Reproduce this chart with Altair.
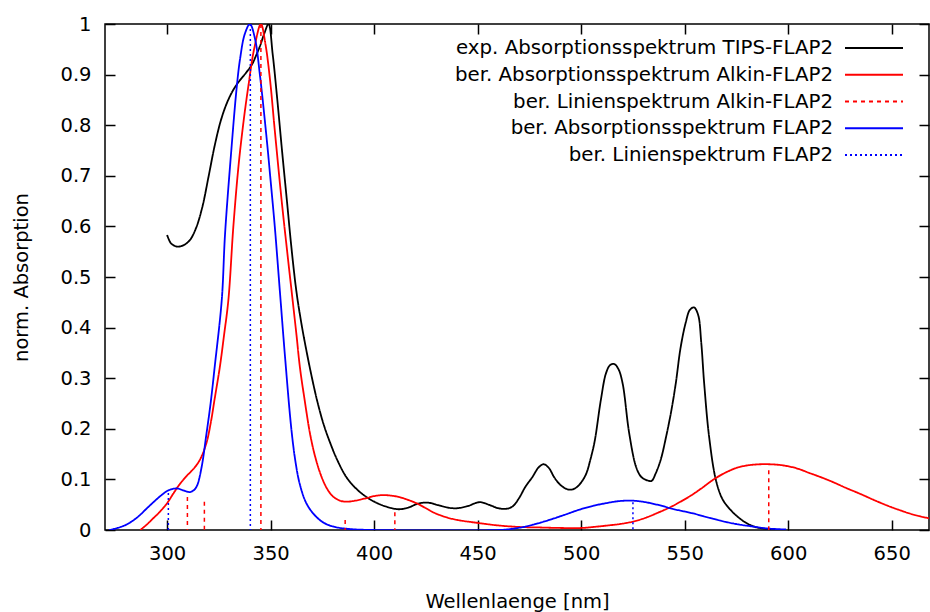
import altair as alt
import pandas as pd

# ---------------- data ----------------
series_names = [
    "exp. Absorptionsspektrum TIPS-FLAP2",
    "ber. Absorptionsspektrum Alkin-FLAP2",
    "ber. Linienspektrum Alkin-FLAP2",
    "ber. Absorptionsspektrum FLAP2",
    "ber. Linienspektrum FLAP2",
]
series_colors = ["#000000", "#ff0000", "#ff0000", "#0000ff", "#0000ff"]
series_dash = [[1, 0], [1, 0], [4, 4], [1, 0], [2, 3]]

exp_nm = [300, 302, 305, 308, 311, 314, 317, 320, 323, 326, 329, 332, 335, 338, 341, 343, 345, 347, 349,
          351, 353, 355.5, 358, 360, 362.5, 365, 367.5, 370, 372.5, 375.5, 378.5, 382, 386.5, 391, 396,
          401, 406, 412, 417, 421, 426, 431, 436, 440, 445, 451, 456, 460, 464, 467, 470, 473, 476.5,
          479.5, 482, 484.5, 487, 490, 493, 495.5, 498, 500.5, 502.5, 504.5, 506.5, 509.5, 512, 514, 516,
          518, 520, 523.2, 526.5, 529, 532, 534, 536, 538.5, 541, 543.5, 545.7, 548, 550.5, 552.5, 554.5,
          556.5, 558, 559.4, 561.8, 565, 568, 571, 574, 577.5, 581, 585, 590, 596]
exp_abs = [0.583, 0.566, 0.560, 0.563, 0.573, 0.597, 0.638, 0.698, 0.760, 0.810, 0.845, 0.870, 0.888, 0.903,
           0.920, 0.938, 0.958, 0.982, 1.000, 0.94, 0.86, 0.75, 0.645, 0.56, 0.47, 0.405, 0.35, 0.3, 0.255,
           0.21, 0.175, 0.14, 0.105, 0.083, 0.066, 0.054, 0.046, 0.041, 0.045, 0.052, 0.054, 0.049, 0.044,
           0.043, 0.047, 0.055, 0.049, 0.043, 0.042, 0.047, 0.063, 0.085, 0.105, 0.124, 0.130, 0.122, 0.104,
           0.089, 0.081, 0.080, 0.085, 0.097, 0.112, 0.140, 0.175, 0.257, 0.31, 0.326, 0.328, 0.318, 0.290,
           0.191, 0.125, 0.105, 0.098, 0.097, 0.112, 0.14, 0.184, 0.235, 0.29, 0.36, 0.41, 0.435, 0.44,
           0.425, 0.37, 0.29, 0.184, 0.10, 0.063, 0.045, 0.032, 0.02, 0.011, 0.005, 0.002, 0.0]

alkin_nm = [287, 290, 293, 296.5, 300, 303, 306, 309.5, 313, 316, 319, 321, 323, 325.5, 327.5, 329.6, 332,
            334.5, 337, 339.2, 342, 345.3, 347.5, 349.7, 352, 355.3, 358, 360.6, 362.5, 364.1, 366.5, 369,
            371.5, 374.6, 377.5, 380.2, 383.5, 386.6, 391, 396.3, 400, 404.3, 408, 412.3, 416, 420.4, 425,
            429, 435, 440, 450, 460, 470, 480, 490, 500, 506, 513, 519, 525.5, 531, 537, 543, 548, 553, 558,
            564, 570, 576, 583, 590, 597, 604, 610, 616, 622, 628, 635, 641, 648, 654, 660, 668]
alkin_abs = [0.0, 0.01, 0.022, 0.036, 0.053, 0.072, 0.09, 0.107, 0.122, 0.14, 0.172, 0.21, 0.26, 0.323, 0.385,
             0.455, 0.6, 0.72, 0.81, 0.876, 0.95, 1.0, 0.96, 0.89, 0.79, 0.652, 0.55, 0.455, 0.385, 0.323,
             0.255, 0.191, 0.145, 0.105, 0.08, 0.066, 0.058, 0.056, 0.058, 0.063, 0.067, 0.069, 0.068, 0.065,
             0.06, 0.053, 0.043, 0.034, 0.025, 0.02, 0.014, 0.009, 0.006, 0.005, 0.004, 0.004, 0.006, 0.009,
             0.012, 0.017, 0.024, 0.034, 0.045, 0.056, 0.068, 0.082, 0.1, 0.114, 0.124, 0.129, 0.13, 0.128,
             0.122, 0.113, 0.104, 0.094, 0.083, 0.071, 0.06, 0.048, 0.039, 0.031, 0.023]

flap_nm = [272, 276, 280, 284, 287, 290, 293.4, 297, 300, 302.5, 305, 308, 311, 313, 314.5, 316.7, 319, 321,
           323, 326.4, 328, 331.2, 333.5, 335.2, 337.5, 340, 342.5, 344.8, 348, 350, 352, 354.5, 357, 360,
           362, 364, 367, 370.5, 375, 380, 388, 400, 460, 466, 473.4, 479, 484.7, 492, 499, 506, 512, 518,
           524.8, 531, 537.7, 545, 553.8, 562, 569.8, 576, 582.7, 590, 599]
flap_abs = [0.0, 0.004, 0.01, 0.02, 0.03, 0.042, 0.055, 0.068, 0.077, 0.081, 0.082, 0.078, 0.075, 0.079, 0.088,
            0.125, 0.19, 0.25, 0.323, 0.455, 0.586, 0.76, 0.87, 0.93, 0.98, 1.0, 0.97, 0.9, 0.777, 0.69, 0.6,
            0.47, 0.34, 0.2, 0.135, 0.092, 0.055, 0.033, 0.016, 0.007, 0.002, 0.0, 0.0, 0.002, 0.007, 0.013,
            0.02, 0.03, 0.04, 0.048, 0.053, 0.057, 0.058, 0.055, 0.049, 0.041, 0.033, 0.024, 0.016, 0.011,
            0.007, 0.003, 0.001]

alkin_lines_nm = [309.8, 318, 345.3, 386, 410, 590.6]
alkin_lines_h = [0.065, 0.056, 1.0, 0.02, 0.035, 0.118]
flap_lines_nm = [300.6, 340.2, 525]
flap_lines_h = [0.073, 1.0, 0.055]

x_ticks = [300, 350, 400, 450, 500, 550, 600, 650]
y_ticks = [0, 0.1, 0.2, 0.3, 0.4, 0.5, 0.6, 0.7, 0.8, 0.9, 1]

# ---------------- tables ----------------
curves = pd.concat([
    pd.DataFrame({"series": series_names[0], "nm": exp_nm, "a": exp_abs}),
    pd.DataFrame({"series": series_names[1], "nm": alkin_nm, "a": alkin_abs}),
    pd.DataFrame({"series": series_names[3], "nm": flap_nm, "a": flap_abs}),
], ignore_index=True)

sticks = pd.concat([
    pd.DataFrame({"series": series_names[2], "nm": alkin_lines_nm, "h": alkin_lines_h}),
    pd.DataFrame({"series": series_names[4], "nm": flap_lines_nm, "h": flap_lines_h}),
], ignore_index=True)
sticks["zero"] = 0.0

legend_df = pd.DataFrame({"series": series_names})

FONT = "DejaVu Sans"
FS = 19.5

xscale = alt.Scale(domain=[270, 668], nice=False, zero=False)
yscale = alt.Scale(domain=[0, 1], nice=False)
color = alt.Color("series:N", scale=alt.Scale(domain=series_names, range=series_colors), legend=None)
dash = alt.StrokeDash("series:N", scale=alt.Scale(domain=series_names, range=series_dash), legend=None)

lines = alt.Chart(curves).mark_line(interpolate="catmull-rom", strokeWidth=1.8, clip=True).encode(
    x=alt.X("nm:Q", scale=xscale,
            axis=alt.Axis(values=x_ticks, orient="bottom", offset=-10, tickSize=10, labelPadding=14,
                          title="Wellenlaenge [nm]", titlePadding=30)),
    y=alt.Y("a:Q", scale=yscale,
            axis=alt.Axis(values=y_ticks, orient="left", offset=-10, tickSize=10, labelPadding=14,
                          format="~g", title="norm. Absorption", titlePadding=28)),
    color=color,
    strokeDash=dash,
    detail="series:N",
)

impulses = alt.Chart(sticks).mark_rule(strokeWidth=1.5).encode(
    x=alt.X("nm:Q", scale=xscale, axis=None),
    y=alt.Y("h:Q", scale=yscale, axis=None),
    y2="zero:Q",
    color=color,
    strokeDash=dash,
)

mirror = alt.Chart(curves).mark_line(opacity=0).encode(
    x=alt.X("nm:Q", scale=xscale,
            axis=alt.Axis(values=x_ticks, orient="top", offset=-10, tickSize=10, labels=False, title=None)),
    y=alt.Y("a:Q", scale=yscale,
            axis=alt.Axis(values=y_ticks, orient="right", offset=-10, tickSize=10, labels=False, title=None)),
    detail="series:N",
)

main = alt.layer(lines, impulses, mirror).resolve_axis(x="independent", y="independent")

leg_y = alt.Y("series:N", sort=series_names,
              scale=alt.Scale(type="point", range=[24, 131], padding=0), axis=None)

leg_text = alt.Chart(legend_df).mark_text(align="right", baseline="middle", font=FONT,
                                          fontSize=19.8, color="black").encode(
    x=alt.value(728), y=leg_y, text="series:N")

leg_line = alt.Chart(legend_df).mark_rule(strokeWidth=1.8).encode(
    x=alt.value(740), x2=alt.value(798), y=leg_y, color=color, strokeDash=dash)

legend = alt.layer(leg_line, leg_text)

chart = alt.layer(main, legend).resolve_scale(y="independent").properties(
    width=824, height=506,
    padding={"left": 105, "top": 24, "right": 1, "bottom": 82},
    autosize=alt.AutoSizeParams(type="none"),
    background="white",
).configure_view(
    stroke="black", strokeWidth=1.5
).configure_axis(
    grid=False, domain=False, tickColor="black", tickWidth=1.5,
    labelFont=FONT, labelFontSize=FS, labelColor="black",
    titleFont=FONT, titleFontSize=FS, titleFontWeight="normal", titleColor="black",
)

chart.save("out.html", embed_options={"renderer": "svg", "actions": False})
